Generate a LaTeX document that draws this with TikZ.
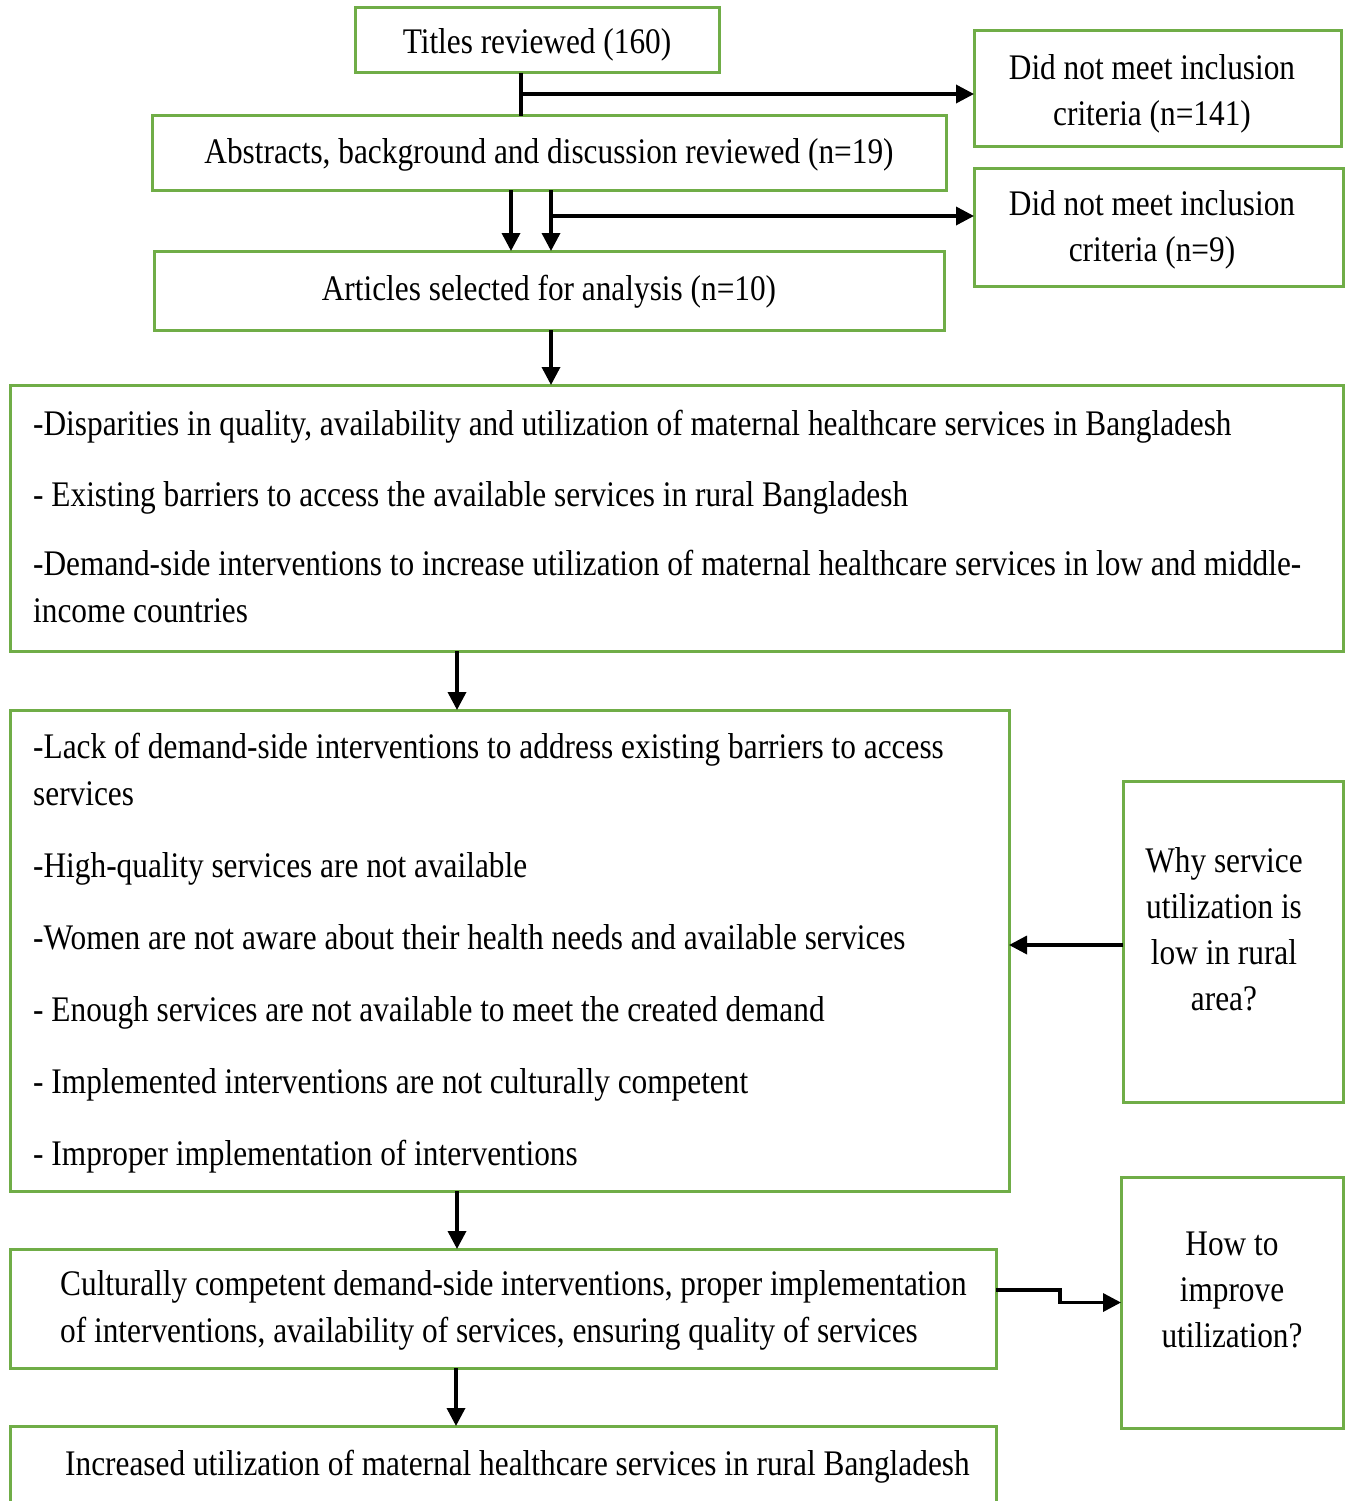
\documentclass[tikz,border=0pt]{standalone}
\usepackage{fontspec}
\setmainfont[FakeStretch=0.87]{Liberation Serif}
\usetikzlibrary{arrows.meta,calc}
\definecolor{boxgreen}{HTML}{70AD47}
\newcommand{\mystrut}{\vrule height 33pt depth 0pt width 0pt}
\begin{document}
\begin{tikzpicture}[x=1pt,y=-1pt,
  frame/.style={draw=boxgreen, line width=3pt, inner sep=0pt, outer sep=0pt, rectangle},
  txt/.style={inner sep=0pt, font=\fontsize{36}{46}\selectfont, align=center, anchor=north},
  ltxt/.style={inner sep=0pt, font=\fontsize{36}{47}\selectfont, align=left, anchor=north west},
  arr/.style={line width=3.5pt, -{Triangle[length=18pt,width=18pt]}},
  conn/.style={line width=3.5pt}]
\useasboundingbox (0,0) rectangle (1345,1501);
\fill[white] (0,0) rectangle (1345,1501);

% frames
\node[frame, minimum width=364pt, minimum height=65pt] (titles) at (537,40.5) {};
\node[frame, minimum width=367pt, minimum height=115pt] (excl1) at (1157.5,88.5) {};
\node[frame, minimum width=794pt, minimum height=74pt] (abstracts) at (549,153) {};
\node[frame, minimum width=369pt, minimum height=118pt] (excl2) at (1158.5,227) {};
\node[frame, minimum width=790pt, minimum height=79pt] (articles) at (549,290.5) {};
\node[frame, minimum width=1333pt, minimum height=266pt] (big1) at (676.5,518) {};
\node[frame, minimum width=999pt, minimum height=481pt] (big2) at (509.5,950.5) {};
\node[frame, minimum width=220pt, minimum height=321pt] (why) at (1233,941.5) {};
\node[frame, minimum width=986pt, minimum height=119pt] (cult) at (503,1308.5) {};
\node[frame, minimum width=222pt, minimum height=251pt] (how) at (1232,1302.5) {};
\node[inner sep=0pt, outer sep=0pt, minimum width=986pt, minimum height=100pt] (final) at (503,1476) {};
\draw[draw=boxgreen, line width=3pt] (final.south west) -- (final.north west) -- (final.north east) -- (final.south east);

% texts
\node[txt] (titlesT) at (537,20) {\mystrut Titles reviewed (160)};
\node[txt] (excl1T) at (1152,46) {\mystrut Did not meet inclusion\\criteria (n=141)};
\node[txt] (abstractsT) at (549,130) {\mystrut Abstracts, background and discussion reviewed (n=19)};
\node[txt] (excl2T) at (1152,182) {\mystrut Did not meet inclusion\\criteria (n=9)};
\node[txt] (articlesT) at (549,267) {\mystrut Articles selected for analysis (n=10)};
\node[ltxt] (big1T) at (33,402) {\mystrut -Disparities in quality, availability and utilization of maternal healthcare services in Bangladesh\\[24pt]
- Existing barriers to access the available services in rural Bangladesh\\[22pt]
-Demand-side interventions to increase utilization of maternal healthcare services in low and middle-\\
income countries};
\node[ltxt] (big2T) at (33,725) {\mystrut -Lack of demand-side interventions to address existing barriers to access\\
services\\[25pt]
-High-quality services are not available\\[25pt]
-Women are not aware about their health needs and available services\\[25pt]
- Enough services are not available to meet the created demand\\[25pt]
- Implemented interventions are not culturally competent\\[25pt]
- Improper implementation of interventions};
\node[txt] (whyT) at (1224,839) {\mystrut Why service\\utilization is\\low in rural\\area?};
\node[ltxt] (cultT) at (60,1262) {\mystrut Culturally competent demand-side interventions, proper implementation\\
of interventions, availability of services, ensuring quality of services};
\node[txt] (howT) at (1232,1222) {\mystrut How to\\improve\\utilization?};
\node[ltxt] (finalT) at (65,1442) {\mystrut Increased utilization of maternal healthcare services in rural Bangladesh};

% connectors
\coordinate (j1) at (521,94);
\coordinate (j2) at (551,216);
\coordinate (k1) at (511,216);
\coordinate (m1) at (457,0);
\coordinate (m2) at (456,0);
\coordinate (w1) at (0,945);
\coordinate (s1) at (1060,1290);

\draw[conn] (j1 |- titles.south) -- (j1 |- abstracts.north);
\draw[arr] (j1) -- (j1 -| excl1.west);
\draw[arr] (k1 |- abstracts.south) -- (k1 |- articles.north);
\draw[arr] (j2 |- abstracts.south) -- (j2 |- articles.north);
\draw[arr] (j2) -- (j2 -| excl2.west);
\draw[arr] (j2 |- articles.south) -- (j2 |- big1.north);
\draw[arr] (m1 |- big1.south) -- (m1 |- big2.north);
\draw[arr] (w1 -| why.west) -- (w1 -| big2.east);
\draw[arr] (m1 |- big2.south) -- (m1 |- cult.north);
\draw[arr] (s1 -| cult.east) -- (s1) |- (how.west);
\draw[arr] (m2 |- cult.south) -- (m2 |- final.north);
\end{tikzpicture}
\end{document}
